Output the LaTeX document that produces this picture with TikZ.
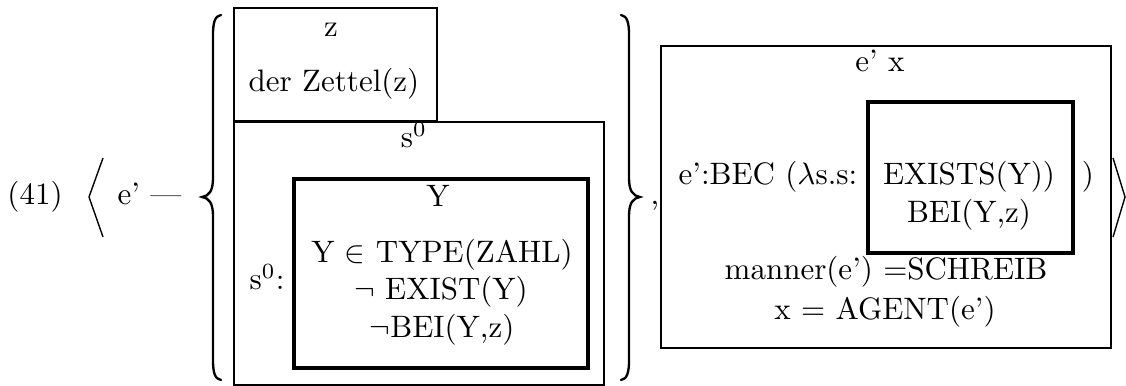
\documentclass[tikz,border=0pt]{standalone}
\begin{document}
\begin{tikzpicture}[x=0.32258pt,y=-0.32258pt,
  txt/.style={inner sep=0pt,anchor=base},
  txtw/.style={inner sep=0pt,anchor=base west},
  boxthin/.style={draw,line width=0.7pt},
  boxmid/.style={draw,line width=0.85pt},
  boxthick/.style={draw,line width=1.0pt},
  bracestyle/.style={line width=0.75pt,line cap=round},
  anglestyle/.style={line width=0.45pt}]
\useasboundingbox (0,0) rectangle (1126,386);

% boxes
\coordinate (zTL) at (234,8);    \coordinate (zBR) at (437,121);
\coordinate (sTL) at (234,122);  \coordinate (sBR) at (604,385);
\coordinate (yTL) at (294,179);  \coordinate (yBR) at (588,368);
\coordinate (rTL) at (661,46);   \coordinate (rBR) at (1111,348);
\coordinate (eTL) at (868,102);  \coordinate (eBR) at (1073,253);
\draw[boxmid]   (zTL) rectangle (zBR);
\draw[boxthin]  (sTL) rectangle (sBR);
\draw[boxthick] (yTL) rectangle (yBR);
\draw[boxmid]   (rTL) rectangle (rBR);
\draw[boxthick] (eTL) rectangle (eBR);

% braces
\draw[bracestyle] (221,15) .. controls (215,16) and (213,22) .. (213,35)
  -- (213,178) .. controls (213,191) and (209,196) .. (202,197)
  .. controls (209,198) and (213,203) .. (213,216)
  -- (213,360) .. controls (213,373) and (215,379) .. (221,380);
\draw[bracestyle] (621,15) .. controls (627,16) and (629,22) .. (629,35)
  -- (629,178) .. controls (629,191) and (633,196) .. (640,197)
  .. controls (633,198) and (629,203) .. (629,216)
  -- (629,360) .. controls (629,373) and (627,379) .. (621,380);

% angle brackets
\draw[anglestyle] (103,158) -- (89,197) -- (103,237);
\draw[anglestyle] (1113,158) -- (1125,197) -- (1113,237);

% texts
\node[txt] (num) at (35,205) {(41)};
\node[txtw] (ep) at (117,205) {e' ---};
\node[txt] (zt) at (331,37) {z};
\node[txt] (zet) at (334,92) {der Zettel(z)};
\node[txt] (s0) at (414,148) {s$^0$};
\node[txt] (s0c) at (267,290) {s$^0$:};
\node[txt] (Yt) at (438,207) {Y};
\node[txt] (l1) at (442,263) {Y $\in$ TYPE(ZAHL)};
\node[txt] (l2) at (441,300) {$\neg$ EXIST(Y)};
\node[txt] (l3) at (442,337) {$\neg$BEI(Y,z)};
\node[txt] (comma) at (655,205) {,};
\node[txt] (ex) at (880,72) {e' x};
\node[txtw] (bec) at (678,185) {e':BEC ($\lambda$s.s:};
\node[txt] (exi) at (969,185) {EXISTS(Y))};
\node[txt] (bei) at (969,223) {BEI(Y,z)};
\node[txt] (rp) at (1088,185) {)};
\node[txt] (man) at (886,280) {manner(e') =SCHREIB};
\node[txt] (ag) at (885,320) {x = AGENT(e')};
\end{tikzpicture}
\end{document}
